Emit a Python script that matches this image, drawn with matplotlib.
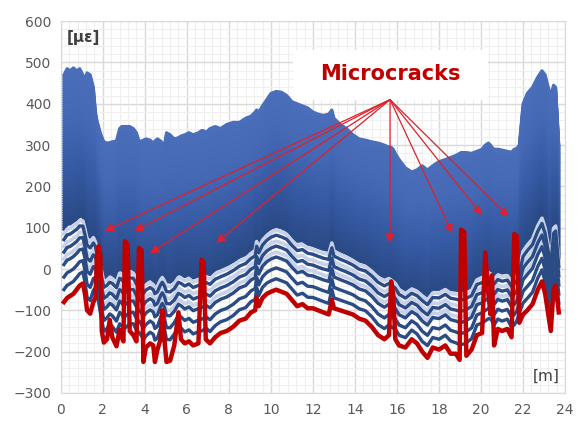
import numpy as np
import matplotlib
matplotlib.use('Agg')
import matplotlib.pyplot as plt
from matplotlib.colors import LinearSegmentedColormap
from matplotlib.patches import Rectangle

# position along the beam [m]
pos_m = [0.15, 0.3, 0.45, 0.6, 0.75, 0.9, 1.05, 1.15, 1.25, 1.4, 1.55, 1.65, 1.72, 1.8, 1.88,
         1.95, 2.05, 2.2, 2.33, 2.45, 2.65, 2.8, 2.9, 2.98, 3.05, 3.18, 3.28, 3.45, 3.6, 3.72,
         3.85, 3.93, 4.05, 4.25, 4.4, 4.48, 4.6, 4.75, 4.83, 4.93, 5.03, 5.2, 5.4, 5.6, 5.72,
         5.9, 6.1, 6.3, 6.55, 6.7, 6.8, 6.9, 7.1, 7.35, 7.6, 7.9, 8.2, 8.5, 8.8, 9.05,
         9.25, 9.32, 9.42, 9.6, 9.8, 10.0, 10.25, 10.5, 10.75, 11.0, 11.25, 11.5, 11.75, 12.0, 12.25,
         12.5, 12.75, 12.9, 13.0, 13.3, 13.6, 13.9, 14.2, 14.5, 14.8, 15.1, 15.4, 15.62, 15.72, 15.82,
         15.92, 16.1, 16.4, 16.7, 16.95, 17.2, 17.45, 17.7, 18.0, 18.3, 18.55, 18.8, 18.98, 19.05, 19.2,
         19.3, 19.55, 19.8, 20.05, 20.2, 20.35, 20.45, 20.52, 20.62, 20.8, 21.0, 21.25, 21.45, 21.58, 21.7,
         21.82, 22.0, 22.2, 22.45, 22.7, 22.9, 23.05, 23.2, 23.32, 23.45, 23.55, 23.7]

# strain at the lowest curve (red), with the crack peaks [microstrain]
red_strain = [-80, -70, -65, -60, -50, -40, -35, -60, -100, -108, -80, -70, 30, 55, 35,
              -150, -178, -170, -123, -165, -187, -147, -165, -175, 67, 60, -150, -160, -175, 51,
              45, -225, -190, -180, -185, -225, -195, -170, -100, -170, -225, -222, -185, -105, -170,
              -180, -175, -185, -180, 22, 15, -170, -180, -165, -155, -150, -140, -125, -120, -105,
              -100, -70, -90, -70, -60, -55, -50, -55, -60, -75, -90, -85, -95, -95, -100,
              -105, -110, -75, -95, -100, -105, -110, -120, -125, -140, -160, -170, -160, -30, -60,
              -170, -185, -190, -170, -180, -200, -215, -190, -195, -185, -205, -205, -220, 95, 90,
              -210, -195, -160, -155, 40, -60, -110, -15, -185, -145, -150, -145, -165, 85, 80,
              -130, -110, -100, -85, -50, -30, -60, -110, -150, -50, -40, -105]

# baseline under the blue load curves (no crack peaks) [microstrain]
base_strain = [-80, -70, -65, -60, -50, -40, -35, -60, -100, -108, -80, -70, -85, -105, -130,
               -150, -178, -170, -160, -165, -180, -160, -165, -175, -172, -165, -160, -160, -175, -180,
               -190, -200, -190, -180, -185, -200, -195, -170, -160, -170, -200, -200, -185, -165, -170,
               -180, -175, -185, -180, -178, -175, -170, -180, -165, -155, -150, -140, -125, -120, -105,
               -100, -70, -90, -70, -60, -55, -50, -55, -60, -75, -90, -85, -95, -95, -100,
               -105, -110, -75, -95, -100, -105, -110, -120, -125, -140, -160, -170, -160, -165, -168,
               -170, -185, -190, -170, -180, -200, -210, -190, -195, -185, -200, -205, -210, -210, -208,
               -205, -195, -160, -155, -150, -145, -145, -150, -160, -145, -150, -145, -165, -160, -150,
               -130, -110, -100, -85, -50, -30, -60, -110, -150, -50, -40, -105]

# upper envelope of the blue curves [microstrain]
top_strain = [470, 485, 480, 487, 480, 485, 470, 460, 475, 470, 440, 380, 360, 345, 330,
              320, 308, 305, 306, 308, 310, 340, 345, 345, 345, 345, 345, 340, 330, 310,
              310, 312, 315, 312, 305, 310, 315, 310, 305, 300, 330, 325, 315, 318, 322,
              325, 330, 325, 330, 335, 335, 330, 340, 345, 340, 350, 355, 355, 365, 370,
              380, 385, 380, 395, 410, 425, 430, 428, 420, 405, 400, 395, 390, 380, 375,
              372, 375, 385, 365, 350, 340, 325, 315, 312, 308, 305, 300, 295, 295, 290,
              280, 265, 245, 235, 240, 250, 240, 250, 260, 265, 270, 275, 280, 282, 282,
              282, 280, 285, 290, 300, 305, 300, 295, 290, 290, 288, 285, 283, 290, 292,
              300, 400, 425, 440, 465, 480, 470, 440, 420, 445, 440, 300]

# load step fractions between baseline and envelope
dark_steps = [0.055, 0.11, 0.165, 0.22, 0.275]
light_steps = [0.19, 0.245, 0.30]
dense_steps = list(np.round(np.arange(0.32, 1.001, 0.01), 3))

# arrow tips [m, microstrain]
crack_x = [2.1, 3.5, 4.25, 7.4, 15.67, 18.63, 20.03, 21.3]
crack_y = [92, 92, 38, 63, 63, 87, 131, 127]


def main():
    x = np.array(pos_m)
    red = np.array(red_strain, dtype=float)
    base = np.array(base_strain, dtype=float)
    top = np.array(top_strain, dtype=float)

    fig = plt.figure(figsize=(5.79, 4.23), dpi=100)
    ax = fig.add_axes([0.105, 0.071, 0.871, 0.879])

    cmap = LinearSegmentedColormap.from_list('bl', ['#2a4a86', '#3659a3', '#4468b4', '#4b6ebb'])

    # dense steps, drawn top first
    for f in dense_steps[::-1]:
        ax.plot(x, base + f * (top - base), color=cmap((f - 0.32) / 0.68), lw=2.2,
                solid_joinstyle='round', zorder=2)
    for f in light_steps:
        ax.plot(x, base + f * (top - base), color='#c8d1ea', lw=2.6, zorder=2)
    for f in dark_steps:
        ax.plot(x, base + f * (top - base), color='#2b4b85', lw=2.4, zorder=3)

    ax.plot(x, red, color='#c00000', lw=3.2, solid_joinstyle='round', zorder=4)

    ax.set_xlim(0, 24)
    ax.set_ylim(-300, 600)
    ax.set_xticks(np.arange(0, 25, 2))
    ax.set_yticks(np.arange(-300, 601, 100))
    ax.set_xticks(np.arange(0, 24.01, 0.4), minor=True)
    ax.set_yticks(np.arange(-300, 601, 20), minor=True)
    ax.grid(which='major', color='#d9d9d9', lw=1.0, zorder=0)
    ax.grid(which='minor', color='#efefef', lw=0.8, zorder=0)
    ax.set_axisbelow(True)
    ax.tick_params(which='both', length=0, labelsize=10, labelcolor='#595959', pad=7)
    for s in ax.spines.values():
        s.set_color('#d9d9d9')

    ax.text(0.012, 0.975, '[\u03bc\u03b5]', transform=ax.transAxes, fontsize=11,
            fontweight='bold', color='#404040', va='top', ha='left', zorder=6)
    ax.text(0.99, 0.025, '[m]', transform=ax.transAxes, fontsize=11,
            color='#404040', va='bottom', ha='right', zorder=6)

    # label box
    ax.add_patch(Rectangle((11.05, 410), 9.3, 120, fc='white', ec='none', zorder=6))
    ax.text(15.7, 471, 'Microcracks', fontsize=15, fontweight='bold', color='#c00000',
            ha='center', va='center', zorder=7)

    for cx, cy in zip(crack_x, crack_y):
        ax.annotate('', xy=(cx, cy), xytext=(15.67, 410),
                    arrowprops=dict(arrowstyle='-|>', color='#e0202a', lw=0.9,
                                    mutation_scale=13, shrinkA=0, shrinkB=0),
                    zorder=6)

    plt.savefig('out.png', format='png', dpi=100)


if __name__ == "__main__":
    main()
